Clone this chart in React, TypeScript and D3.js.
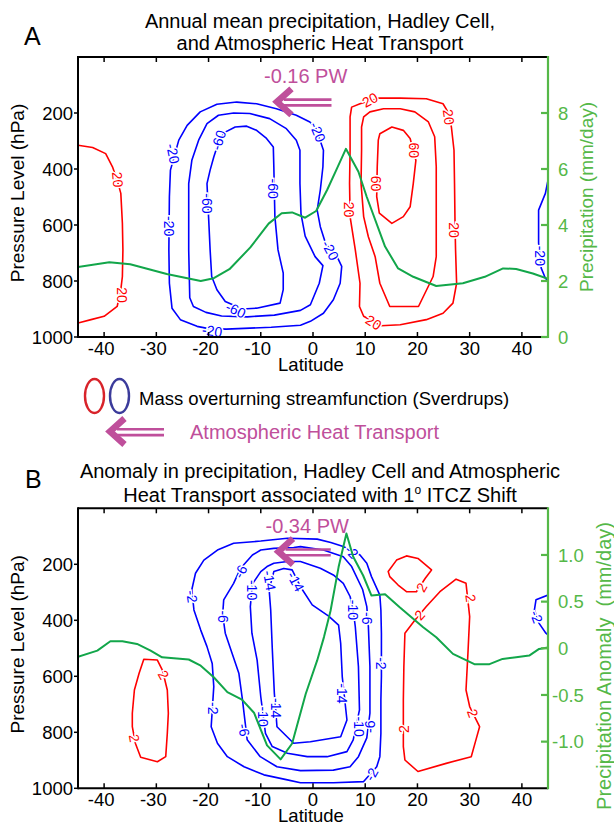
import React from "react";
import * as d3 from "d3";

const FONT = "'Liberation Sans', Arial, Helvetica, sans-serif";
const RED = "#FF0000";
const BLUE = "#0000FF";
const GREEN_LINE = "#12A64A";
const GREEN_AXIS = "#55B848";
const MAGENTA = "#BF4F9B";

// ---------- axes ----------
const LAT_TICKS = [-40, -30, -20, -10, 0, 10, 20, 30, 40];
const P_TICKS = [200, 400, 600, 800, 1000];
const PRECIP_TICKS_A = [0, 2, 4, 6, 8];
const PRECIP_TICK_LABELS_A = ["0", "2", "4", "6", "8"];
const PRECIP_TICKS_B = [-1.0, -0.5, 0, 0.5, 1.0];
const PRECIP_TICK_LABELS_B = ["-1.0", "-0.5", "0", "0.5", "1.0"];

// ---------- panel A data ----------
const A_PRECIP_LAT = [-45, -39, -35, -28, -21.5, -19, -16, -12, -8.5, -6, -4, -1.5, 0.6, 2.7, 4.6, 6.3, 8.7, 10.3, 13.8, 16.3, 19.2, 23.6, 28.7, 32.9, 36.4, 38.9, 42.1, 45];
const A_PRECIP = [2.5, 2.67, 2.6, 2.25, 2.0, 2.1, 2.42, 3.2, 4.05, 4.42, 4.45, 4.26, 4.5, 5.25, 6.02, 6.72, 5.9, 5.0, 3.23, 2.45, 2.15, 1.82, 1.92, 2.15, 2.45, 2.43, 2.27, 2.08];

const A_RED20_LEFT = [[-45, 315], [-42.2, 323], [-39.7, 345], [-38.4, 392], [-37.5, 440], [-36.8, 487], [-36.5, 594], [-36.4, 689], [-36.5, 784], [-36.8, 831], [-37.5, 891], [-40, 926], [-42.5, 938], [-45, 950]];
const A_BLUE20_RIGHT = [[45, 440], [44.5, 487], [43.2, 547], [43.2, 665], [43.7, 754], [44.5, 790], [45, 800]];
const A_BLUE20 = [[-22.2, 962], [-25.4, 938], [-27.0, 897], [-27.5, 808], [-27.6, 689], [-27.5, 499], [-27.3, 404], [-25.7, 297], [-24.1, 244], [-21.6, 196], [-18.4, 169], [-14.6, 161], [-10.8, 167], [-7.0, 185], [-3.2, 208], [-0.6, 232], [0.6, 255], [2.0, 333], [1.9, 392], [1.4, 475], [0.8, 547], [1.4, 606], [2.4, 665], [4.6, 713], [5.5, 748], [5.2, 808], [3.9, 867], [2.0, 915], [-0.5, 944], [-2.4, 958], [-8, 965], [-16.6, 972], [-20, 970]];
const A_BLUE40 = [[-23.8, 452], [-23.2, 369], [-21.9, 297], [-20.3, 238], [-18.1, 208], [-15.2, 200], [-12.1, 202], [-8.3, 220], [-5.1, 256], [-3.2, 297], [-2.5, 333], [-2.5, 452], [-2.3, 560], [-1.5, 640], [0.4, 713], [1.9, 745], [1.2, 808], [-0.5, 885], [-2.4, 905], [-7.4, 922], [-12.6, 928], [-17.5, 925], [-20.5, 912], [-22.9, 891], [-23.6, 860], [-23.8, 689]];
const A_BLUE60 = [[-17.0, 270], [-14.9, 250], [-12.7, 247], [-10.8, 262], [-8.9, 291], [-7.6, 321], [-7.5, 392], [-7.3, 570], [-6.7, 689], [-5.7, 772], [-5.7, 831], [-6.3, 879], [-10.8, 897], [-13.5, 900], [-16.8, 873], [-18.4, 831], [-19.4, 784], [-19.7, 689], [-20.0, 570], [-20.3, 452], [-19.7, 404], [-19.0, 357], [-18.0, 300]];
const A_RED20 = [[12.5, 147], [16.7, 147], [21.7, 149], [24.9, 167], [25.8, 195], [26.5, 250], [27.0, 333], [27.1, 452], [27.2, 600], [27.3, 689], [27.5, 808], [26.8, 879], [24.9, 915], [21.7, 938], [16.7, 956], [13.0, 960], [9.7, 926], [8.9, 891], [9.0, 808], [8.1, 689], [7.1, 570], [7.0, 452], [7.1, 333], [7.1, 214], [7.4, 179], [9.0, 167]];
const A_RED40 = [[9.7, 214], [10.9, 196], [13.5, 185], [16.7, 185], [19.5, 196], [22.1, 232], [23.3, 285], [23.6, 392], [23.6, 570], [23.6, 713], [23.0, 784], [20.2, 891], [14.7, 891], [12.8, 808], [11.9, 713], [10.6, 642], [9.7, 570], [9.2, 452], [9.3, 333], [9.3, 250]];
const A_RED60 = [[12.8, 274], [15.1, 250], [17.3, 262], [18.6, 291], [19.7, 369], [19.2, 452], [18.6, 535], [17.3, 570], [15.1, 594], [12.7, 558], [12.2, 499], [12.3, 392], [12.5, 297]];

const A_CONTOURS = [
  { level: 20, closed: false, pts: A_RED20_LEFT },
  { level: -20, closed: false, pts: A_BLUE20_RIGHT },
  { level: -20, closed: true, pts: A_BLUE20 },
  { level: -40, closed: true, pts: A_BLUE40 },
  { level: -60, closed: true, pts: A_BLUE60 },
  { level: 20, closed: true, pts: A_RED20 },
  { level: 40, closed: true, pts: A_RED40 },
  { level: 60, closed: true, pts: A_RED60 },
];

// [lat, pressure, text, angle]
const A_LABELS: [number, number, string, number][] = [
  [-37.4, 438, "20", 85], [-36.6, 850, "20", 90],
  [-26.8, 345, "-20", 78], [-27.6, 604, "-20", 90], [-19.3, 978, "-20", 8],
  [-18.1, 297, "-60", -72], [-20.3, 523, "-60", 90], [-14.8, 903, "-60", 25],
  [-7.6, 470, "-60", 90],
  [0.9, 268, "-20", 68], [3.3, 690, "-20", 62],
  [10.9, 153, "20", -28], [26.0, 214, "20", 82],
  [19.3, 333, "60", 90], [12.0, 452, "60", 90],
  [6.9, 545, "20", 90], [27.1, 618, "20", 90], [11.6, 948, "20", 32],
  [43.4, 710, "-20", 90],
];

// ---------- panel B data ----------
const B_PRECIP_LAT = [-45, -41.3, -38.8, -36.5, -33.7, -31.1, -28.9, -23.8, -21.5, -19.0, -16.4, -13.6, -11.3, -8.8, -6.2, -4.0, -1.4, 0.8, 2.1, 3.35, 4.9, 6.4, 7.7, 9.6, 11.2, 13.8, 16.6, 21.1, 23.6, 26.8, 30.9, 33.8, 36.3, 38.9, 41.4, 43.3, 45];
const B_PRECIP = [-0.09, -0.025, 0.075, 0.075, 0.047, -0.025, -0.096, -0.12, -0.186, -0.31, -0.47, -0.55, -0.69, -1.04, -1.19, -1.02, -0.49, -0.13, 0.12, 0.40, 0.87, 1.23, 0.98, 0.78, 0.565, 0.58, 0.44, 0.225, 0.118, -0.06, -0.17, -0.17, -0.114, -0.096, -0.078, -0.007, 0.01];

const B_RED2_LEFT = [[-32.4, 539], [-29.8, 542], [-28.8, 580], [-27.9, 649], [-27.7, 732], [-27.9, 804], [-28.2, 887], [-29.8, 905], [-33.0, 889], [-34.0, 840], [-34.6, 780], [-34.6, 732], [-34.2, 649], [-33.3, 589]];
const B_BLUE2 = [[-4.9, 107], [-10.0, 117], [-15.2, 125], [-18.3, 149], [-20.9, 185], [-22.5, 232], [-23.2, 290], [-22.8, 363], [-21.5, 435], [-20.3, 494], [-19.3, 554], [-19.0, 637], [-19.5, 780], [-18.3, 839], [-16.4, 887], [-13.2, 923], [-9.4, 952], [-4.9, 970], [-2.4, 980], [3.9, 980], [9.7, 976], [12.2, 923], [12.8, 887], [13.0, 804], [13.0, 685], [13.1, 601], [13.1, 446], [13.0, 363], [12.8, 310], [11.2, 244], [10.3, 196], [9.0, 167], [7.4, 150], [5.5, 135], [3.4, 122], [0.8, 110]];
const B_BLUE6 = [[-11.6, 167], [-13.9, 215], [-15.2, 268], [-17.1, 327], [-17.3, 380], [-16.8, 446], [-15.5, 518], [-14.2, 589], [-13.5, 685], [-12.6, 827], [-10.1, 887], [-6.9, 923], [-2.4, 937], [3.9, 935], [7.1, 923], [8.7, 887], [10.3, 820], [10.9, 732], [10.9, 565], [10.6, 420], [10.3, 351], [9.5, 290], [7.4, 208], [5.8, 173], [2.0, 149], [-2.4, 137], [-3.7, 140], [-7.5, 143], [-10.0, 149]];
const B_BLUE10 = [[-8.8, 208], [-10.0, 226], [-11.6, 270], [-12.0, 351], [-11.7, 446], [-10.7, 542], [-10.0, 673], [-9.1, 804], [-7.8, 851], [-4.9, 875], [-1.1, 887], [2.7, 887], [6.5, 869], [7.7, 827], [8.9, 720], [8.7, 565], [8.1, 423], [7.7, 363], [7.1, 315], [5.8, 268], [3.9, 238], [1.4, 214], [-2.4, 190], [-4.9, 190], [-7.5, 196]];
const B_BLUE14 = [[-7.5, 226], [-5.6, 215], [-4.0, 220], [-2.4, 280], [-0.15, 345], [3.0, 385], [4.9, 417], [5.3, 482], [5.6, 601], [6.5, 756], [5.3, 816], [-0.5, 834], [-3.7, 839], [-6.9, 780], [-7.4, 661], [-7.8, 500], [-8.1, 363], [-8.4, 290]];
const B_RED2_SMALL = [[14.4, 226], [16.0, 185], [17.9, 170], [20.1, 179], [22.7, 220], [21.5, 250], [19.8, 298], [17.9, 298], [16.3, 274], [14.7, 244]];
const B_RED2_RIGHT = [[17.6, 446], [19.5, 400], [21.7, 351], [24.3, 298], [27.4, 253], [29.3, 268], [30.0, 387], [29.7, 506], [29.3, 649], [30.0, 708], [31.9, 780], [31.2, 827], [30.3, 887], [25.5, 911], [20.1, 940], [17.6, 899], [17.3, 851], [17.3, 685], [17.4, 565]];
const B_BLUE2_RIGHT = [[45, 310], [42.7, 327], [42.4, 363], [43.3, 411], [44.6, 446], [45, 452]];

const B_CONTOURS = [
  { level: 2, closed: true, pts: B_RED2_LEFT },
  { level: -2, closed: true, pts: B_BLUE2 },
  { level: -6, closed: true, pts: B_BLUE6 },
  { level: -10, closed: true, pts: B_BLUE10 },
  { level: -14, closed: true, pts: B_BLUE14 },
  { level: 2, closed: true, pts: B_RED2_SMALL },
  { level: 2, closed: true, pts: B_RED2_RIGHT },
  { level: -2, closed: false, pts: B_BLUE2_RIGHT },
];

const B_LABELS: [number, number, string, number][] = [
  [-28.6, 595, "2", 60], [-34.2, 821, "2", 80],
  [-23.2, 315, "-2", 82], [-19.2, 714, "-2", 90],
  [-13.9, 226, "-6", -62], [-17.3, 387, "-6", 90], [-13.2, 792, "-6", 80],
  [-11.7, 292, "-10", 90], [-9.6, 744, "-10", 90],
  [-8.3, 258, "-14", 80], [-3.3, 262, "-14", 62], [-7.1, 714, "-14", 90],
  [7.4, 155, "-2", 45], [7.7, 363, "-10", 90], [10.4, 393, "-6", 90],
  [13.1, 554, "-2", 90], [5.6, 661, "-14", 90], [8.8, 780, "-10", 90],
  [10.9, 780, "-6", -90], [11.2, 950, "-2", -60],
  [20.8, 282, "2", -60], [20.4, 381, "2", -48], [30.2, 321, "2", 82],
  [30.6, 732, "2", 70], [17.4, 789, "2", -90],
  [42.8, 387, "-2", 70],
];

// heat transport arrows: value, tip latitude, tail latitude, pressure level
const A_HEAT = { value: "-0.16", tipLat: -7.28, tailLat: 3.54, p: 160 };
const B_HEAT = { value: "-0.34", tipLat: -6.99, tailLat: 3.4, p: 155 };

const X0 = 78;
const X1 = 548;
const x = d3.scaleLinear().domain([-45, 45]).range([X0, X1]);

function Arrow({ tx, ty, tailX, size = 1 }: { tx: number; ty: number; tailX: number; size?: number }) {
  return (
    <g>
      <line x1={tx + 9} x2={tailX} y1={ty - 2.2} y2={ty - 2.2} stroke={MAGENTA} strokeWidth={2.6} />
      <line x1={tx + 9} x2={tailX} y1={ty + 3.6} y2={ty + 3.6} stroke={MAGENTA} strokeWidth={2.6} />
      <polyline
        points={`${tx + 16.5 * size},${ty - 13 * size} ${tx + 2},${ty} ${tx + 16.5 * size},${ty + 13 * size}`}
        fill="none"
        stroke={MAGENTA}
        strokeWidth={6.5}
        strokeLinejoin="miter"
        strokeMiterlimit={10}
      />
    </g>
  );
}

type PanelProps = {
  id: string;
  top: number;
  bottom: number;
  contours: { level: number; closed: boolean; pts: number[][] }[];
  labels: [number, number, string, number][];
  precipLat: number[];
  precip: number[];
  pDomain: [number, number];
  pTicks: number[];
  pTickLabels: string[];
  heat: { value: string; tipLat: number; tailLat: number; p: number };
  rightLabel: string;
  rightLabelX: number;
  rightLabelY: number;
  rightLabelSize: number;
};

function Panel(props: PanelProps) {
  const { id, top, bottom, contours, labels, precipLat, precip, pDomain, pTicks, pTickLabels, heat } = props;
  const y = d3.scaleLinear().domain([0, 1000]).range([top, bottom]);
  const yr = d3.scaleLinear().domain(pDomain).range([bottom, top]);
  const lineOpen = d3.line<number[]>().x((d) => x(d[0])).y((d) => y(d[1]));
  const lineClosed = d3.line<number[]>().x((d) => x(d[0])).y((d) => y(d[1])).curve(d3.curveLinearClosed);
  const precipLine = d3
    .line<number>()
    .x((_, i) => x(precipLat[i]))
    .y((d) => yr(d));
  const tipX = x(heat.tipLat);
  const tipY = y(heat.p);
  const tailX = x(heat.tailLat);
  return (
    <g>
      <defs>
        <clipPath id={`clip-${id}`}>
          <rect x={X0} y={top} width={X1 - X0} height={bottom - top} />
        </clipPath>
      </defs>
      <g clipPath={`url(#clip-${id})`}>
        {contours.map((c, i) => (
          <path
            key={i}
            d={(c.closed ? lineClosed(c.pts) : lineOpen(c.pts)) || ""}
            fill="none"
            stroke={c.level > 0 ? RED : BLUE}
            strokeWidth={1.6}
            strokeLinejoin="round"
          />
        ))}
        {labels.map((l, i) => (
          <text
            key={i}
            transform={`translate(${x(l[0])},${y(l[1])}) rotate(${l[3]})`}
            textAnchor="middle"
            dy="0.36em"
            fontSize={14}
            fontFamily={FONT}
            fill={l[2].startsWith("-") ? BLUE : RED}
            stroke="white"
            strokeWidth={3}
            paintOrder="stroke"
          >
            {l[2]}
          </text>
        ))}
        <path d={precipLine(precip) || ""} fill="none" stroke={GREEN_LINE} strokeWidth={2} strokeLinejoin="round" />
      </g>
      {/* heat transport arrow */}
      <Arrow tx={tipX} ty={tipY} tailX={tailX} />
      <text x={tipX - 11} y={tipY - 19} fontSize={20} fontFamily={FONT} fill={MAGENTA}>
        {heat.value} PW
      </text>
      {/* frame: top, bottom, left */}
      <line x1={X0} x2={X1} y1={top} y2={top} stroke="#000" strokeWidth={2} />
      <line x1={X0} x2={X1} y1={bottom} y2={bottom} stroke="#000" strokeWidth={2} />
      <line x1={X0} x2={X0} y1={top - 1} y2={bottom + 1} stroke="#000" strokeWidth={2} />
      {LAT_TICKS.map((t) => (
        <g key={t}>
          <line x1={x(t)} x2={x(t)} y1={top} y2={top + 5} stroke="#000" strokeWidth={1.5} />
          <line x1={x(t)} x2={x(t)} y1={bottom} y2={bottom - 5} stroke="#000" strokeWidth={1.5} />
          <text x={x(t) - (t < 0 ? 3 : 0)} y={bottom + 17.5} textAnchor="middle" fontSize={18.5} fontFamily={FONT} fill="#000">
            {t}
          </text>
        </g>
      ))}
      {P_TICKS.map((t) => (
        <g key={t}>
          <line x1={X0} x2={X0 - 4} y1={y(t)} y2={y(t)} stroke="#000" strokeWidth={1.5} />
          <text x={X0 - 5} y={y(t)} dy="0.36em" textAnchor="end" fontSize={18.5} fontFamily={FONT} fill="#000">
            {t}
          </text>
        </g>
      ))}
      <text x={311} y={bottom + 33.5} textAnchor="middle" fontSize={18.5} fontFamily={FONT} fill="#000">
        Latitude
      </text>
      <text
        transform={`translate(17,${(top + bottom) / 2 - 4}) rotate(-90)`}
        textAnchor="middle"
        dy="0.36em"
        fontSize={19}
        fontFamily={FONT}
        fill="#000"
      >
        Pressure Level (hPa)
      </text>
      {/* right (precipitation) axis */}
      <line x1={X1} x2={X1} y1={top - 1} y2={bottom + 1} stroke={GREEN_AXIS} strokeWidth={2.2} />
      {pTicks.map((t, i) => (
        <g key={t}>
          <line x1={X1} x2={X1 - 7} y1={yr(t)} y2={yr(t)} stroke={GREEN_AXIS} strokeWidth={2.2} />
          <text
            x={pTickLabels[i].startsWith("-") ? X1 + 4 : X1 + 10}
            y={yr(t)}
            dy="0.36em"
            fontSize={18.5}
            fontFamily={FONT}
            fill={GREEN_AXIS}
          >
            {pTickLabels[i]}
          </text>
        </g>
      ))}
      <text
        transform={`translate(${props.rightLabelX},${props.rightLabelY}) rotate(-90)`}
        textAnchor="middle"
        dy="0.36em"
        fontSize={props.rightLabelSize}
        fontFamily={FONT}
        fill={GREEN_AXIS}
        style={{ whiteSpace: "pre" }}
      >
        {props.rightLabel}
      </text>
    </g>
  );
}

export default function App() {
  return (
    <svg width={614} height={824} style={{ position: "absolute", left: 0, top: 0, background: "#fff" }}>
      <rect width={614} height={824} fill="#fff" />
      {/* Panel A titles */}
      <text x={24} y={45} fontSize={25} fontFamily={FONT} fill="#000">A</text>
      <text x={320} y={27.5} textAnchor="middle" fontSize={20} fontFamily={FONT} fill="#000">
        Annual mean precipitation, Hadley Cell,
      </text>
      <text x={320} y={50} textAnchor="middle" fontSize={20} fontFamily={FONT} fill="#000">
        and Atmospheric Heat Transport
      </text>
      <Panel
        id="a"
        top={57}
        bottom={337}
        contours={A_CONTOURS}
        labels={A_LABELS}
        precipLat={A_PRECIP_LAT}
        precip={A_PRECIP}
        pDomain={[0, 10]}
        pTicks={PRECIP_TICKS_A}
        pTickLabels={PRECIP_TICK_LABELS_A}
        heat={A_HEAT}
        rightLabel="Precipitation (mm/day)"
        rightLabelX={586}
        rightLabelY={197}
        rightLabelSize={19}
      />
      {/* legend */}
      <ellipse cx={94.5} cy={396} rx={9.5} ry={17} fill="none" stroke="#D8232A" strokeWidth={2.4} />
      <ellipse cx={119.5} cy={396} rx={9.5} ry={17} fill="none" stroke="#3B3B9B" strokeWidth={2.4} />
      <text x={139} y={405} fontSize={18.5} fontFamily={FONT} fill="#000">
        Mass overturning streamfunction (Sverdrups)
      </text>
      <Arrow tx={108} ty={431.5} tailX={164} />
      <text x={190} y={438.5} fontSize={20} fontFamily={FONT} fill={MAGENTA}>
        Atmospheric Heat Transport
      </text>
      {/* Panel B titles */}
      <text x={25} y={488} fontSize={25} fontFamily={FONT} fill="#000">B</text>
      <text x={320} y={478} textAnchor="middle" fontSize={20} fontFamily={FONT} fill="#000">
        Anomaly in precipitation, Hadley Cell and Atmospheric
      </text>
      <text x={320} y={501.5} textAnchor="middle" fontSize={20} fontFamily={FONT} fill="#000">
        Heat Transport associated with 1
        <tspan fontSize={12} dy={-8}>o</tspan>
        <tspan dy={8}> ITCZ Shift</tspan>
      </text>
      <Panel
        id="b"
        top={508.3}
        bottom={788.3}
        contours={B_CONTOURS}
        labels={B_LABELS}
        precipLat={B_PRECIP_LAT}
        precip={B_PRECIP}
        pDomain={[-1.5, 1.5]}
        pTicks={PRECIP_TICKS_B}
        pTickLabels={PRECIP_TICK_LABELS_B}
        heat={B_HEAT}
        rightLabel={"Precipitation Anomaly  (mm/day)"}
        rightLabelX={604}
        rightLabelY={666}
        rightLabelSize={20}
      />
    </svg>
  );
}
